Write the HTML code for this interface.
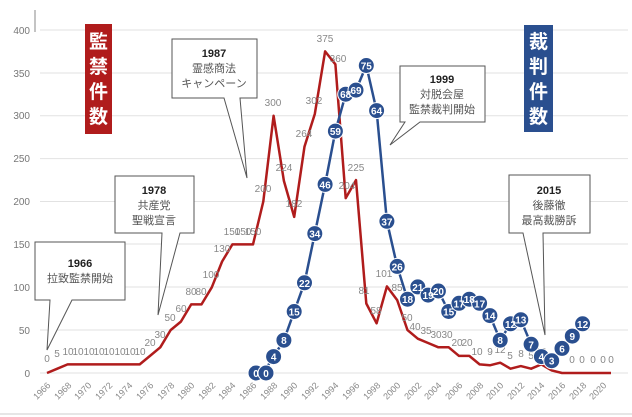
<!DOCTYPE html>
<html><head><meta charset="utf-8"><style>
html,body{margin:0;padding:0;background:#fff}
svg{display:block}
text{font-family:"Liberation Sans","Noto Sans CJK JP",sans-serif}
</style></head><body>
<svg width="632" height="417" viewBox="0 0 632 417" xmlns="http://www.w3.org/2000/svg">
<rect width="632" height="417" fill="#fff"/>
<g stroke="#e2e2e2" stroke-width="1">
<line x1="40" x2="628" y1="373" y2="373"/><line x1="40" x2="628" y1="330" y2="330"/>
<line x1="40" x2="628" y1="287" y2="287"/><line x1="40" x2="628" y1="244" y2="244"/>
<line x1="40" x2="628" y1="201.5" y2="201.5"/><line x1="40" x2="628" y1="158.6" y2="158.6"/>
<line x1="40" x2="628" y1="115.8" y2="115.8"/><line x1="40" x2="628" y1="73" y2="73"/>
<line x1="40" x2="628" y1="30" y2="30"/>
</g>
<line x1="35" y1="10" x2="35" y2="32" stroke="#888"/>
<g fill="#777" font-size="10" text-anchor="end">
<text x="30" y="377">0</text><text x="30" y="334">50</text><text x="30" y="291">100</text>
<text x="30" y="248">150</text><text x="30" y="205">200</text><text x="30" y="162">250</text>
<text x="30" y="119">300</text><text x="30" y="77">350</text><text x="30" y="34">400</text>
</g>
<g fill="#888" font-size="9" text-anchor="end">
<text transform="translate(51,386) rotate(-45)">1966</text><text transform="translate(72,386) rotate(-45)">1968</text>
<text transform="translate(92,386) rotate(-45)">1970</text><text transform="translate(113,386) rotate(-45)">1972</text>
<text transform="translate(133,386) rotate(-45)">1974</text><text transform="translate(154,386) rotate(-45)">1976</text>
<text transform="translate(175,386) rotate(-45)">1978</text><text transform="translate(195,386) rotate(-45)">1980</text>
<text transform="translate(216,386) rotate(-45)">1982</text><text transform="translate(236,386) rotate(-45)">1984</text>
<text transform="translate(257,386) rotate(-45)">1986</text><text transform="translate(278,386) rotate(-45)">1988</text>
<text transform="translate(298,386) rotate(-45)">1990</text><text transform="translate(319,386) rotate(-45)">1992</text>
<text transform="translate(339,386) rotate(-45)">1994</text><text transform="translate(360,386) rotate(-45)">1996</text>
<text transform="translate(381,386) rotate(-45)">1998</text><text transform="translate(401,386) rotate(-45)">2000</text>
<text transform="translate(422,386) rotate(-45)">2002</text><text transform="translate(442,386) rotate(-45)">2004</text>
<text transform="translate(463,386) rotate(-45)">2006</text><text transform="translate(484,386) rotate(-45)">2008</text>
<text transform="translate(504,386) rotate(-45)">2010</text><text transform="translate(525,386) rotate(-45)">2012</text>
<text transform="translate(545,386) rotate(-45)">2014</text><text transform="translate(566,386) rotate(-45)">2016</text>
<text transform="translate(587,386) rotate(-45)">2018</text><text transform="translate(607,386) rotate(-45)">2020</text>
</g>
<polyline fill="none" stroke="#b01c1c" stroke-width="2.5" stroke-linejoin="round" points="47,373 57.3,368.7 67.6,364.4 77.9,364.4 88.2,364.4 98.5,364.4 108.8,364.4 119.1,364.4 129.4,364.4 139.7,364.4 150,355.9 160.3,347.3 170.6,330.1 180.9,321.6 191.2,304.4 201.5,304.4 211.8,287.3 222.1,261.5 232.4,244.4 242.7,244.4 253,244.4 263.3,201.5 273.6,115.8 283.9,180.9 294.2,216.9 304.5,146.6 314.8,114 325.1,51.4 335.4,64.3 345.7,198.1 356,180.1 366.3,303.5 376.6,323.3 386.9,286.4 397.2,300.1 407.5,330.1 417.8,338.7 428.1,343 438.4,347.3 448.7,347.3 459,355.9 469.3,355.9 479.6,364.4 489.9,365.3 500.2,362.7 510.5,368.7 520.8,366.1 531.1,368.7 541.4,364.4 551.7,370.4 562,373 572.3,373 582.6,373 592.9,373 611,373"/>
<g fill="#888" font-size="10" text-anchor="middle">
<text x="47" y="362">0</text><text x="57" y="357">5</text><text x="68" y="355">10</text><text x="78" y="355">10</text><text x="89" y="355">10</text><text x="99" y="355">10</text><text x="109" y="355">10</text><text x="120" y="355">10</text><text x="130" y="355">10</text><text x="140" y="355">10</text>
<text x="150" y="346">20</text><text x="160" y="338">30</text><text x="170" y="321">50</text><text x="181" y="312">60</text><text x="191" y="295">80</text><text x="201" y="295">80</text><text x="211" y="278">100</text><text x="222" y="252">130</text><text x="232" y="235">150</text><text x="243" y="235">150</text><text x="253" y="235">150</text>
<text x="263" y="192">200</text><text x="273" y="106">300</text><text x="284" y="171">224</text><text x="294" y="207">182</text><text x="304" y="137">264</text><text x="314" y="104">302</text><text x="325" y="42">375</text><text x="338" y="62">360</text><text x="347" y="189">204</text><text x="356" y="171">225</text><text x="364" y="294">81</text><text x="376" y="314">58</text><text x="384" y="277">101</text><text x="397" y="291">85</text><text x="407" y="321">50</text><text x="415" y="330">40</text><text x="426" y="334">35</text><text x="436" y="338">30</text><text x="447" y="338">30</text><text x="457" y="346">20</text><text x="467" y="346">20</text><text x="477" y="355">10</text><text x="490" y="355">9</text><text x="500" y="353">12</text><text x="510" y="359">5</text><text x="521" y="357">8</text><text x="531" y="359">5</text><text x="541" y="355">10</text>
<text x="572" y="363">0</text><text x="582" y="363">0</text><text x="593" y="363">0</text><text x="603" y="363">0</text><text x="611" y="363">0</text>
</g>
<polyline fill="none" stroke="#2a4f8f" stroke-width="2.5" stroke-linejoin="round" points="253,373 263.3,373 273.6,356.6 283.9,340.2 294.2,311.5 304.5,282.8 314.8,233.6 325.1,184.4 335.4,131.1 345.7,94.2 356,90.1 366.3,65.5 376.6,110.6 386.9,221.3 397.2,266.4 407.5,299.2 417.8,286.9 428.1,295.1 438.4,291 448.7,311.5 459,303.3 469.3,299.2 479.6,303.3 489.9,315.6 500.2,340.2 510.5,323.8 520.8,319.7 531.1,344.3 541.4,356.6 551.7,360.7 562,348.4 572.3,336.1 582.6,323.8"/>
<g fill="#2a4f8f" stroke="#fff" stroke-width="1">
<circle cx="256" cy="373" r="8"/><circle cx="266" cy="373" r="8"/><circle cx="273.6" cy="356.6" r="8"/><circle cx="283.9" cy="340.2" r="8"/><circle cx="294.2" cy="311.5" r="8"/><circle cx="304.5" cy="282.8" r="8"/><circle cx="314.8" cy="233.6" r="8"/><circle cx="325.1" cy="184.4" r="8"/><circle cx="335.4" cy="131.1" r="8"/><circle cx="345.7" cy="94.2" r="8"/><circle cx="356" cy="90.1" r="8"/><circle cx="366.3" cy="65.5" r="8"/><circle cx="376.6" cy="110.6" r="8"/><circle cx="386.9" cy="221.3" r="8"/><circle cx="397.2" cy="266.4" r="8"/><circle cx="407.5" cy="299.2" r="8"/><circle cx="417.8" cy="286.9" r="8"/><circle cx="428.1" cy="295.1" r="8"/><circle cx="438.4" cy="291" r="8"/><circle cx="448.7" cy="311.5" r="8"/><circle cx="459" cy="303.3" r="8"/><circle cx="469.3" cy="299.2" r="8"/><circle cx="479.6" cy="303.3" r="8"/><circle cx="489.9" cy="315.6" r="8"/><circle cx="500.2" cy="340.2" r="8"/><circle cx="510.5" cy="323.8" r="8"/><circle cx="520.8" cy="319.7" r="8"/><circle cx="531.1" cy="344.3" r="8"/><circle cx="541.4" cy="356.6" r="8"/><circle cx="551.7" cy="360.7" r="8"/><circle cx="562" cy="348.4" r="8"/><circle cx="572.3" cy="336.1" r="8"/><circle cx="582.6" cy="323.8" r="8"/>
</g>
<g fill="#fff" font-size="10" font-weight="bold" text-anchor="middle">
<text x="256" y="377">0</text><text x="266" y="377">0</text><text x="273.6" y="360.6">4</text><text x="283.9" y="344.2">8</text><text x="294.2" y="315.5">15</text><text x="304.5" y="286.8">22</text><text x="314.8" y="237.6">34</text><text x="325.1" y="188.4">46</text><text x="335.4" y="135.1">59</text><text x="345.7" y="98.2">68</text><text x="356" y="94.1">69</text><text x="366.3" y="69.5">75</text><text x="376.6" y="114.6">64</text><text x="386.9" y="225.3">37</text><text x="397.2" y="270.4">26</text><text x="407.5" y="303.2">18</text><text x="417.8" y="290.9">21</text><text x="428.1" y="299.1">19</text><text x="438.4" y="295">20</text><text x="448.7" y="315.5">15</text><text x="459" y="307.3">17</text><text x="469.3" y="303.2">18</text><text x="479.6" y="307.3">17</text><text x="489.9" y="319.6">14</text><text x="500.2" y="344.2">8</text><text x="510.5" y="327.8">12</text><text x="520.8" y="323.7">13</text><text x="531.1" y="348.3">7</text><text x="541.4" y="360.6">4</text><text x="551.7" y="364.7">3</text><text x="562" y="352.4">6</text><text x="572.3" y="340.1">9</text><text x="582.6" y="327.8">12</text>
</g>
<rect x="85" y="24" width="27" height="110" fill="#b01c1c"/>
<g fill="#fff" font-size="19" font-weight="bold" text-anchor="middle"><text x="98.5" y="48">監</text><text x="98.5" y="73">禁</text><text x="98.5" y="98">件</text><text x="98.5" y="123">数</text></g>
<rect x="524" y="25" width="29" height="107" fill="#2a4f8f"/>
<g fill="#fff" font-size="19" font-weight="bold" text-anchor="middle"><text x="538.5" y="48">裁</text><text x="538.5" y="73">判</text><text x="538.5" y="98">件</text><text x="538.5" y="123">数</text></g>
<g fill="#fff" stroke="#555" stroke-width="1">
<path d="M172,39 H257 V98 H240 L247,178 L224,98 H172 Z"/>
<path d="M115,176 H194 V233 H180 L158,315 L162,233 H115 Z"/>
<path d="M35,242 H125 V300 H72 L47,350 L50,300 H35 Z"/>
<path d="M400,66 H485 V122 H420 L390,145 L405,122 H400 Z"/>
<path d="M509,175 H590 V233 H543 L545,335 L523,233 H509 Z"/>
</g>
<g font-size="11" text-anchor="middle" fill="#555">
<text x="214" y="57" font-weight="bold" fill="#222">1987</text><text x="214" y="72">霊感商法</text><text x="214" y="87">キャンペーン</text>
<text x="154" y="194" font-weight="bold" fill="#222">1978</text><text x="154" y="209">共産党</text><text x="154" y="224">聖戦宣言</text>
<text x="80" y="267" font-weight="bold" fill="#222">1966</text><text x="80" y="282">拉致監禁開始</text>
<text x="442" y="83" font-weight="bold" fill="#222">1999</text><text x="442" y="98">対脱会屋</text><text x="442" y="113">監禁裁判開始</text>
<text x="549" y="194" font-weight="bold" fill="#222">2015</text><text x="549" y="209">後藤徹</text><text x="549" y="224">最高裁勝訴</text>
</g>
<line x1="0" y1="414" x2="632" y2="414" stroke="#ccc"/>
</svg>
</body></html>
